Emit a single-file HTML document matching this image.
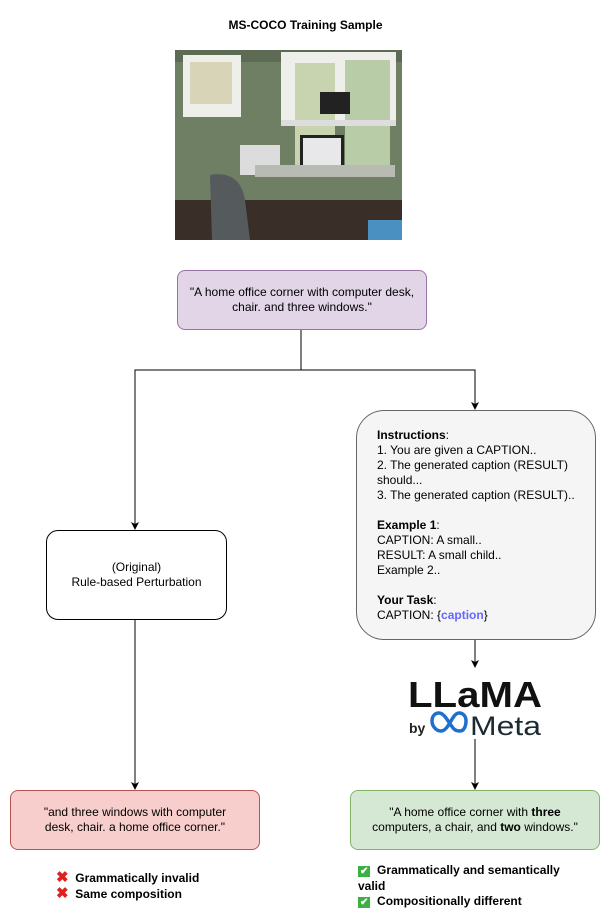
<!DOCTYPE html>
<html><head><style>
body{margin:0;background:#fff;width:611px;height:910px;position:relative;font-family:"Liberation Sans",sans-serif;overflow:hidden}
.t{position:absolute;font-size:12px;color:#000;line-height:15px}
.box{position:absolute;box-sizing:border-box;display:flex;align-items:center;justify-content:center;text-align:center;font-size:12px;line-height:15px}
</style></head><body>
<div class="t" style="left:0;width:611px;top:18px;text-align:center;font-weight:bold">MS-COCO Training Sample</div>
<svg style="position:absolute;left:0;top:0" width="611" height="910">
<g>
<rect x="175" y="50" width="227" height="190" fill="#6f7f63"/>
<rect x="175" y="50" width="227" height="12" fill="#5d6b55"/>
<rect x="183" y="55" width="58" height="62" fill="#eeeeea"/>
<rect x="190" y="62" width="42" height="42" fill="#d8d4b8"/>
<rect x="281" y="52" width="115" height="70" fill="#eeeeea"/>
<rect x="295" y="63" width="40" height="110" fill="#c8d4b0"/>
<rect x="345" y="60" width="45" height="110" fill="#b8cca8"/>
<rect x="281" y="120" width="115" height="6" fill="#ddd"/>
<rect x="320" y="92" width="30" height="22" fill="#222"/>
<rect x="300" y="135" width="44" height="38" fill="#222"/>
<rect x="303" y="138" width="38" height="30" fill="#e8e8ea"/>
<rect x="240" y="145" width="40" height="30" fill="#dcdcdc"/>
<rect x="255" y="165" width="140" height="12" fill="#b8bab4"/>
<rect x="175" y="200" width="227" height="40" fill="#3a2f28"/>
<path d="M210,175 Q240,170 245,200 L250,240 L212,240 Z" fill="#555a5c"/>
<rect x="368" y="220" width="34" height="20" fill="#4a90c0"/>
</g>
<g fill="none" stroke="#000">
<path d="M301,330 V370 H135 V526"/>
<path d="M301,370 H475 V406"/>
<path d="M135,620 V786"/>
<path d="M475,640 V664"/>
<path d="M475,739 V786"/>
</g>
<g fill="#000">
<path d="M135,530 l-4,-8 l4,2 l4,-2 z"/>
<path d="M475,410 l-4,-8 l4,2 l4,-2 z"/>
<path d="M135,790 l-4,-8 l4,2 l4,-2 z"/>
<path d="M475,668 l-4,-8 l4,2 l4,-2 z"/>
<path d="M475,790 l-4,-8 l4,2 l4,-2 z"/>
</g>
<text x="475" y="707" text-anchor="middle" font-family="Liberation Sans,sans-serif" font-weight="bold" font-size="36" fill="#111" textLength="134" lengthAdjust="spacingAndGlyphs">LLaMA</text>
<text x="409" y="733" font-family="Liberation Sans,sans-serif" font-weight="bold" font-size="14" fill="#222">by</text>
<path d="M441,731 C436,731 432,726 432,721 C432,716 435,713 439,713 C445,713 449,724 454,729 C456,731 458,731 460,731 C464,731 466,726 466,721 C466,716 463,713 459,713 C452,713 449,731 441,731 Z" fill="none" stroke="#1f6fd1" stroke-width="3.5"/>
<text x="470" y="735" font-family="Liberation Sans,sans-serif" font-size="27" fill="#1c2b33" textLength="71" lengthAdjust="spacingAndGlyphs">Meta</text>
</svg>
<div class="box" style="left:177px;top:270px;width:250px;height:60px;background:#e1d5e7;border:1px solid #9673a6;border-radius:8px"><div>"A home office corner with computer desk,<br>chair. and three windows."</div></div>
<div class="box" style="left:46px;top:530px;width:181px;height:90px;background:#fff;border:1px solid #000;border-radius:12px"><div>(Original)<br>Rule-based Perturbation</div></div>
<div class="box" style="left:356px;top:410px;width:240px;height:230px;background:#f5f5f5;border:1px solid #666;border-radius:28px;justify-content:flex-start;text-align:left;padding-left:20px">
<div>
<b>Instructions</b>:<br>1. You are given a CAPTION..<br>2. The generated caption (RESULT)<br>should...<br>3. The generated caption (RESULT)..<br><br><b>Example 1</b>:<br>CAPTION: A small..<br>RESULT: A small child..<br>Example 2..<br><br><b>Your Task</b>:<br>CAPTION: {<b style="color:#6666ff">caption</b>}
</div></div>
<div class="box" style="left:10px;top:790px;width:250px;height:60px;background:#f8cecc;border:1px solid #b85450;border-radius:8px"><div>"and three windows with computer<br>desk, chair. a home office corner."</div></div>
<div class="box" style="left:350px;top:790px;width:250px;height:60px;background:#d5e8d4;border:1px solid #82b366;border-radius:8px"><div>"A home office corner with <b>three</b><br>computers, a chair, and <b>two</b> windows."</div></div>
<div class="t" style="left:56px;top:870px;font-weight:bold"><span style="color:#e02020;font-size:15px">✖</span>&nbsp; Grammatically invalid<br><span style="color:#e02020;font-size:15px">✖</span>&nbsp; Same composition</div>
<div class="t" style="left:358px;top:863px;font-weight:bold;width:220px"><span style="background:#3cb043;color:#fff;font-size:10px;padding:0 2px">✔</span>&nbsp; Grammatically and semantically valid<br><span style="background:#3cb043;color:#fff;font-size:10px;padding:0 2px">✔</span>&nbsp; Compositionally different</div>
</body></html>
